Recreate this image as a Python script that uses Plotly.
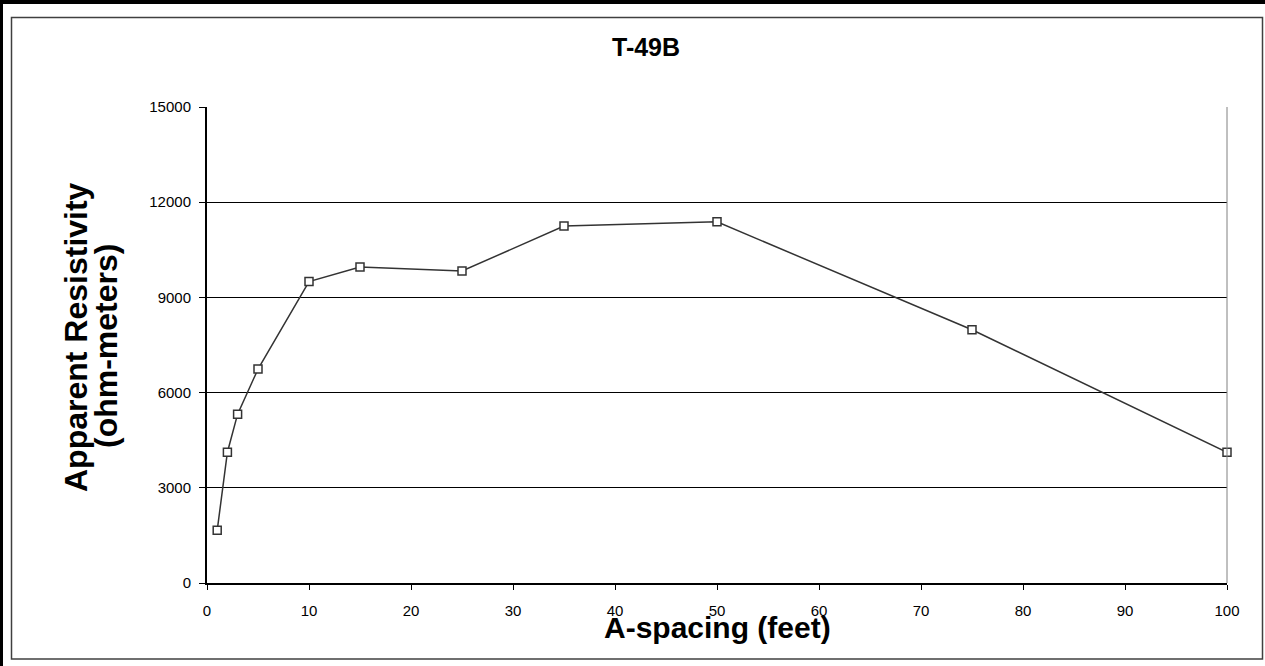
import plotly.graph_objects as go

# Data
a_spacing = [1, 2, 3, 5, 10, 15, 25, 35, 50, 75, 100]
resistivity = [1660, 4120, 5320, 6740, 9500, 9960, 9830, 11250, 11380, 7980, 4120]
title_text = "T-49B"
x_title = "A-spacing (feet)"
y_title_1 = "Apparent Resistivity"
y_title_2 = "(ohm-meters)"

W, H = 1265, 666
L, R, T, B = 207, 1227, 107, 583


def px(x):
    return (x - L) / (R - L)


def py(y):
    return (B - y) / (B - T)


fig = go.Figure()
fig.add_trace(go.Scatter(
    x=a_spacing, y=resistivity, mode="lines+markers",
    line=dict(color="#333333", width=1.5),
    marker=dict(symbol="square", size=8, color="white",
                line=dict(color="#333333", width=1.5)),
    cliponaxis=False, showlegend=False,
))

font = "Arial, Liberation Sans, sans-serif"
fig.update_layout(
    width=W, height=H,
    margin=dict(l=L, r=W - R, t=T, b=H - B),
    paper_bgcolor="white", plot_bgcolor="white",
    font=dict(family=font, color="black", size=14),
    xaxis=dict(range=[0, 100], dtick=10, tick0=0, showgrid=False,
               showline=True, linecolor="black", linewidth=1.5,
               ticks="outside", ticklen=5, tickcolor="black",
               ticklabelstandoff=8, zeroline=False,
               tickfont=dict(size=15)),
    yaxis=dict(range=[0, 15000], dtick=3000, tick0=0, showgrid=True,
               gridcolor="black", gridwidth=1, tickformat="d",
               showline=True, linecolor="black", linewidth=2,
               ticks="outside", ticklen=6, tickcolor="black",
               ticklabelstandoff=5,
               zeroline=False, tickfont=dict(size=15)),
    shapes=[
        dict(type="line", xref="paper", yref="paper", x0=1, x1=1, y0=0, y1=1,
             line=dict(color="#808080", width=1)),
        dict(type="rect", xref="paper", yref="paper",
             x0=px(11.5), x1=px(1262.5), y0=py(659), y1=py(17.5),
             line=dict(color="#404040", width=1.5)),
        dict(type="rect", xref="paper", yref="paper",
             x0=px(0), x1=px(W), y0=py(4), y1=py(0),
             fillcolor="black", line=dict(width=0)),
        dict(type="rect", xref="paper", yref="paper",
             x0=px(0), x1=px(3), y0=py(H), y1=py(0),
             fillcolor="black", line=dict(width=0)),
    ],
    annotations=[
        dict(text="<b>%s</b>" % title_text, xref="paper", yref="paper",
             x=px(646), y=py(47), xanchor="center", yanchor="middle",
             showarrow=False, font=dict(size=25, family=font)),
        dict(text="<b>%s</b>" % x_title, xref="paper", yref="paper",
             x=px(717), y=py(627), xanchor="center", yanchor="middle",
             showarrow=False, font=dict(size=30, family=font)),
        dict(text="<b>%s</b>" % y_title_1, xref="paper", yref="paper",
             x=px(76), y=py(337), xanchor="center", yanchor="middle",
             textangle=-90, showarrow=False, font=dict(size=32, family=font)),
        dict(text="<b>%s</b>" % y_title_2, xref="paper", yref="paper",
             x=px(106), y=py(346), xanchor="center", yanchor="middle",
             textangle=-90, showarrow=False, font=dict(size=32, family=font)),
    ],
)

fig.write_html(
    "out.html",
    config={"displayModeBar": False},
    post_script="document.body.style.margin='0';document.body.style.padding='0';",
)
